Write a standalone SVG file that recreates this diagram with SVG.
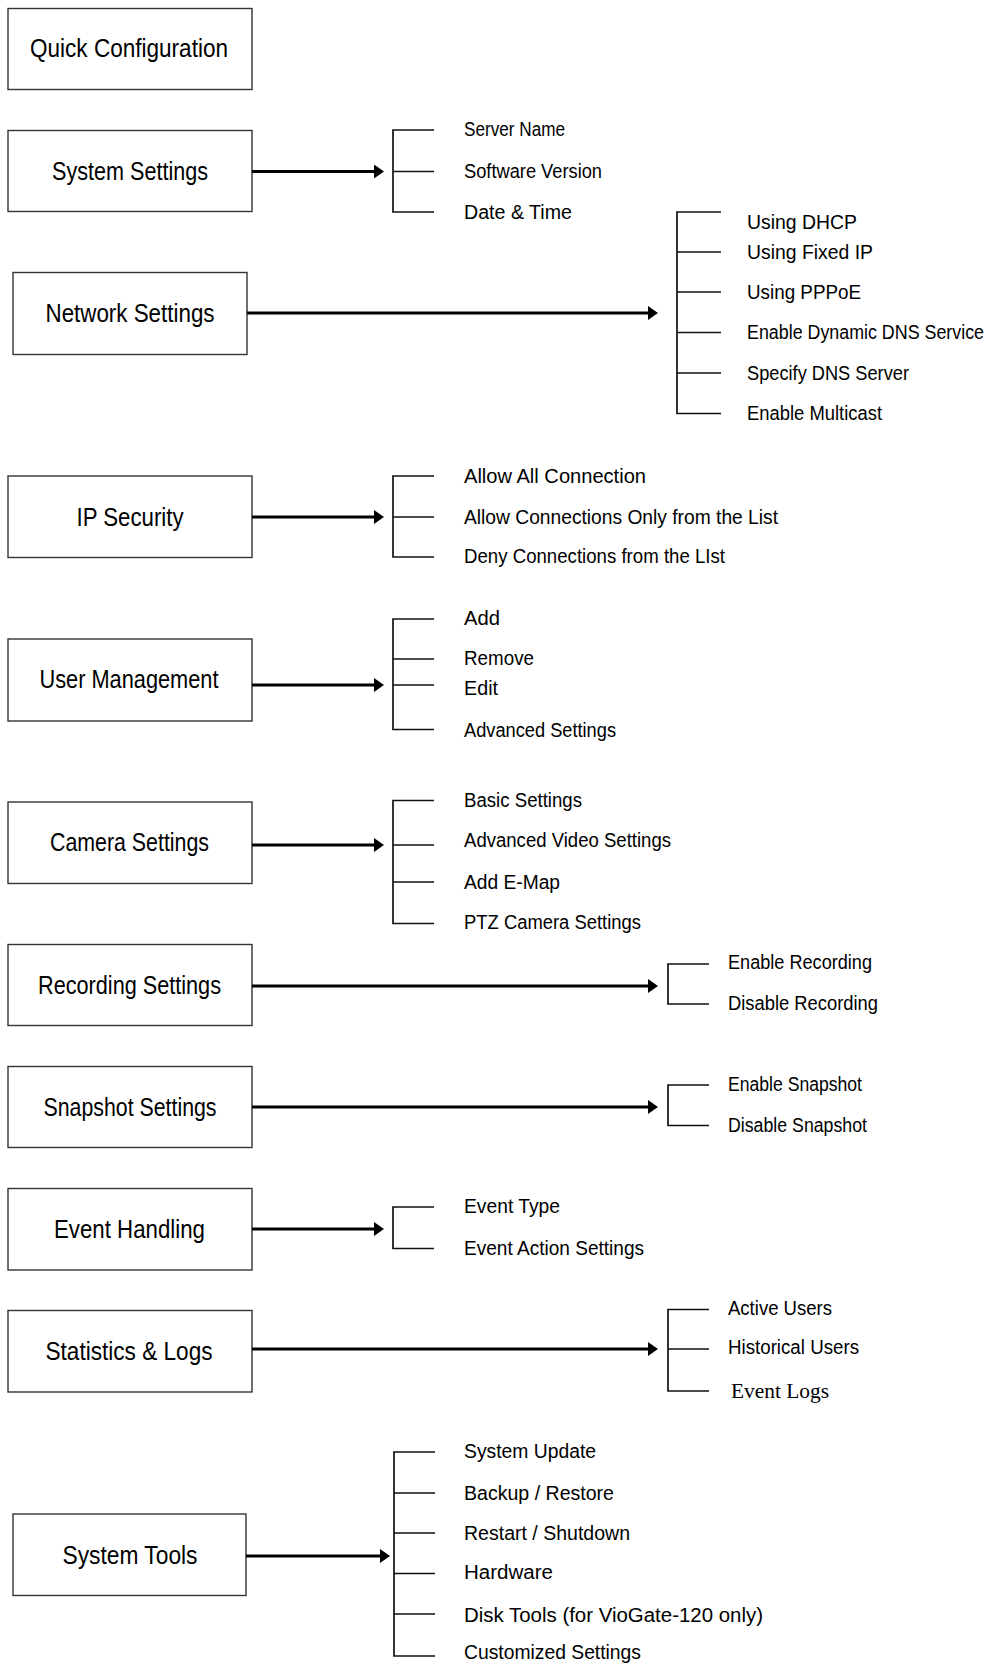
<svg xmlns="http://www.w3.org/2000/svg" width="998" height="1664" viewBox="0 0 998 1664">
<style>
.box{fill:#fff;stroke:#333;stroke-width:1.4}
.bt{font-family:"Liberation Sans",Arial,sans-serif;font-size:26.5px;fill:#000;text-anchor:middle}
.it{font-family:"Liberation Sans",Arial,sans-serif;font-size:19.5px;fill:#000}
.sf{font-family:"Liberation Serif","Times New Roman",serif;font-size:20px;fill:#000}
.arr{stroke:#000;stroke-width:3;fill:none;marker-end:url(#ah)}
.br{stroke:#111;stroke-width:1.7;fill:none}
</style>
<defs>
<marker id="ah" markerUnits="userSpaceOnUse" markerWidth="11" markerHeight="14" viewBox="0 0 11 14" refX="2" refY="7" orient="auto">
<path d="M0,0 L10,7 L0,14 Z" fill="#000"/>
</marker>
</defs>
<rect width="998" height="1664" fill="#fff"/>

<g id="quick-configuration"><rect class="box" x="8" y="8.5" width="244" height="81"/><text class="bt" x="129" y="57" textLength="198" lengthAdjust="spacingAndGlyphs">Quick Configuration</text></g>

<g id="system-settings"><rect class="box" x="8" y="130.5" width="244" height="81"/><text class="bt" x="130" y="180" textLength="156" lengthAdjust="spacingAndGlyphs">System Settings</text></g>
<g id="system-settings-items">
<text class="it" x="464" y="136" textLength="101" lengthAdjust="spacingAndGlyphs">Server Name</text>
<text class="it" x="464" y="177.5" textLength="138" lengthAdjust="spacingAndGlyphs">Software Version</text>
<text class="it" x="464" y="218.5" textLength="108" lengthAdjust="spacingAndGlyphs">Date &amp; Time</text>
</g>

<g id="network-settings"><rect class="box" x="13" y="272.5" width="234" height="82"/><text class="bt" x="130" y="321.5" textLength="169" lengthAdjust="spacingAndGlyphs">Network Settings</text></g>
<g id="network-settings-items">
<text class="it" x="747" y="229" textLength="110" lengthAdjust="spacingAndGlyphs">Using DHCP</text>
<text class="it" x="747" y="258.5" textLength="126" lengthAdjust="spacingAndGlyphs">Using Fixed IP</text>
<text class="it" x="747" y="298.5" textLength="114" lengthAdjust="spacingAndGlyphs">Using PPPoE</text>
<text class="it" x="747" y="338.5" font-size="17.5" textLength="237" lengthAdjust="spacingAndGlyphs">Enable Dynamic DNS Service</text>
<text class="it" x="747" y="379.5" textLength="162" lengthAdjust="spacingAndGlyphs">Specify DNS Server</text>
<text class="it" x="747" y="420" textLength="135" lengthAdjust="spacingAndGlyphs">Enable Multicast</text>
</g>

<g id="ip-security"><rect class="box" x="8" y="476" width="244" height="81.5"/><text class="bt" x="130" y="525.5" textLength="107" lengthAdjust="spacingAndGlyphs">IP Security</text></g>
<g id="ip-security-items">
<text class="it" x="464" y="482.5" textLength="182" lengthAdjust="spacingAndGlyphs">Allow All Connection</text>
<text class="it" x="464" y="523.5" textLength="314" lengthAdjust="spacingAndGlyphs">Allow Connections Only from the List</text>
<text class="it" x="464" y="562.5" textLength="261" lengthAdjust="spacingAndGlyphs">Deny Connections from the LIst</text>
</g>

<g id="user-management"><rect class="box" x="8" y="639" width="244" height="82"/><text class="bt" x="129" y="688" textLength="179" lengthAdjust="spacingAndGlyphs">User Management</text></g>
<g id="user-management-items">
<text class="it" x="464" y="625" textLength="36" lengthAdjust="spacingAndGlyphs">Add</text>
<text class="it" x="464" y="665" textLength="70" lengthAdjust="spacingAndGlyphs">Remove</text>
<text class="it" x="464" y="695" textLength="34" lengthAdjust="spacingAndGlyphs">Edit</text>
<text class="it" x="464" y="737" textLength="152" lengthAdjust="spacingAndGlyphs">Advanced Settings</text>
</g>

<g id="camera-settings"><rect class="box" x="8" y="802" width="244" height="81.5"/><text class="bt" x="129.5" y="851" textLength="159" lengthAdjust="spacingAndGlyphs">Camera Settings</text></g>
<g id="camera-settings-items">
<text class="it" x="464" y="806.5" textLength="118" lengthAdjust="spacingAndGlyphs">Basic Settings</text>
<text class="it" x="464" y="847" textLength="207" lengthAdjust="spacingAndGlyphs">Advanced Video Settings</text>
<text class="it" x="464" y="889" textLength="96" lengthAdjust="spacingAndGlyphs">Add E-Map</text>
<text class="it" x="464" y="928.5" textLength="177" lengthAdjust="spacingAndGlyphs">PTZ Camera Settings</text>
</g>

<g id="recording-settings"><rect class="box" x="8" y="944.5" width="244" height="81"/><text class="bt" x="129.5" y="994" textLength="183" lengthAdjust="spacingAndGlyphs">Recording Settings</text></g>
<g id="recording-settings-items">
<text class="it" x="728" y="969" textLength="144" lengthAdjust="spacingAndGlyphs">Enable Recording</text>
<text class="it" x="728" y="1010" textLength="150" lengthAdjust="spacingAndGlyphs">Disable Recording</text>
</g>

<g id="snapshot-settings"><rect class="box" x="8" y="1066.5" width="244" height="81"/><text class="bt" x="130" y="1116" textLength="173" lengthAdjust="spacingAndGlyphs">Snapshot Settings</text></g>
<g id="snapshot-settings-items">
<text class="it" x="728" y="1091" textLength="134" lengthAdjust="spacingAndGlyphs">Enable Snapshot</text>
<text class="it" x="728" y="1132" textLength="139" lengthAdjust="spacingAndGlyphs">Disable Snapshot</text>
</g>

<g id="event-handling"><rect class="box" x="8" y="1188.5" width="244" height="81.5"/><text class="bt" x="129.5" y="1238" textLength="151" lengthAdjust="spacingAndGlyphs">Event Handling</text></g>
<g id="event-handling-items">
<text class="it" x="464" y="1213" textLength="96" lengthAdjust="spacingAndGlyphs">Event Type</text>
<text class="it" x="464" y="1254.5" textLength="180" lengthAdjust="spacingAndGlyphs">Event Action Settings</text>
</g>

<g id="statistics-logs"><rect class="box" x="8" y="1310.5" width="244" height="81.5"/><text class="bt" x="129" y="1360" textLength="167" lengthAdjust="spacingAndGlyphs">Statistics &amp; Logs</text></g>
<g id="statistics-logs-items">
<text class="it" x="728" y="1315" textLength="104" lengthAdjust="spacingAndGlyphs">Active Users</text>
<text class="it" x="728" y="1354" textLength="131" lengthAdjust="spacingAndGlyphs">Historical Users</text>
<text class="sf" x="731" y="1398" textLength="98" lengthAdjust="spacingAndGlyphs">Event Logs</text>
</g>

<g id="system-tools"><rect class="box" x="13" y="1514" width="233" height="81.5"/><text class="bt" x="130" y="1563.5" textLength="135" lengthAdjust="spacingAndGlyphs">System Tools</text></g>
<g id="system-tools-items">
<text class="it" x="464" y="1458" textLength="132" lengthAdjust="spacingAndGlyphs">System Update</text>
<text class="it" x="464" y="1500" textLength="150" lengthAdjust="spacingAndGlyphs">Backup / Restore</text>
<text class="it" x="464" y="1540" textLength="166" lengthAdjust="spacingAndGlyphs">Restart / Shutdown</text>
<text class="it" x="464" y="1579" textLength="89" lengthAdjust="spacingAndGlyphs">Hardware</text>
<text class="it" x="464" y="1622" textLength="299" lengthAdjust="spacingAndGlyphs">Disk Tools (for VioGate-120 only)</text>
<text class="it" x="464" y="1659" textLength="177" lengthAdjust="spacingAndGlyphs">Customized Settings</text>
</g>

<g id="connectors">
<line class="arr" x1="252" y1="171.5" x2="376" y2="171.5"/>
<line class="arr" x1="247" y1="313" x2="650" y2="313"/>
<line class="arr" x1="252" y1="517" x2="376" y2="517"/>
<line class="arr" x1="252" y1="685" x2="376" y2="685"/>
<line class="arr" x1="252" y1="845" x2="376" y2="845"/>
<line class="arr" x1="252" y1="986" x2="650" y2="986"/>
<line class="arr" x1="252" y1="1107" x2="650" y2="1107"/>
<line class="arr" x1="252" y1="1229" x2="376" y2="1229"/>
<line class="arr" x1="252" y1="1349" x2="650" y2="1349"/>
<line class="arr" x1="246" y1="1556" x2="382" y2="1556"/>

<path class="br" d="M434,130 H393 V212 H434 M393,171.5 H434"/>
<path class="br" d="M721,212 H677 V413.5 H721 M677,252 H721 M677,292 H721 M677,332.5 H721 M677,373 H721"/>
<path class="br" d="M434,476 H393 V557 H434 M393,517 H434"/>
<path class="br" d="M434,619 H393 V729.5 H434 M393,659 H434 M393,685 H434"/>
<path class="br" d="M434,800.5 H393 V923.5 H434 M393,845 H434 M393,882 H434"/>
<path class="br" d="M709,964 H668 V1004 H709"/>
<path class="br" d="M709,1085 H668 V1125.5 H709"/>
<path class="br" d="M434,1207 H393 V1248.5 H434"/>
<path class="br" d="M709,1309.5 H668 V1391 H709 M668,1349 H709"/>
<path class="br" d="M435,1452 H394 V1656 H435 M394,1493 H435 M394,1533 H435 M394,1573.5 H435 M394,1614 H435"/>
</g>
</svg>
